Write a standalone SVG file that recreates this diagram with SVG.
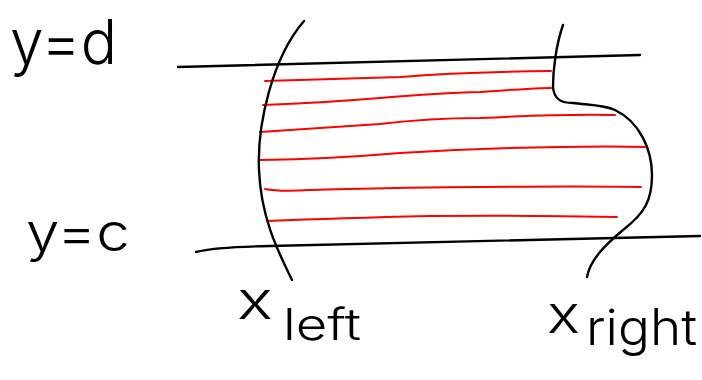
<svg xmlns="http://www.w3.org/2000/svg" width="702" height="380" viewBox="0 0 702 380">
<style>
.ink{fill:none;stroke:#000;stroke-width:2.4;stroke-linecap:round;stroke-linejoin:round}
.red{fill:none;stroke:#ff0000;stroke-width:2;stroke-linecap:round}
.lbl{font-family:"Inter","Lato","Liberation Sans",sans-serif;fill:#000;font-weight:300}
</style>
<rect width="702" height="380" fill="#fff"/>
<g id="hatching">
<path class="red" d="M265,81 Q330,79 400,77 Q460,72 551,71"/>
<path class="red" d="M263,105 Q320,103 380,98 Q440,93 480,92 Q520,89 551,88"/>
<path class="red" d="M260,132 Q320,128 380,124 Q430,118 480,118 Q560,114 615,115"/>
<path class="red" d="M260,160 Q330,159 400,153 Q480,148 560,147 Q610,146 647,147"/>
<path class="red" d="M265,189 Q280,192 310,190 Q420,187 480,187 Q580,186 641,187"/>
<path class="red" d="M267,221 Q340,218 430,216 Q520,215 617,217"/>
</g>
<g id="y_d">
<path class="ink" d="M178,67 Q400,62 640,55"/>
<text class="lbl" x="10" y="64" font-size="62" textLength="107" lengthAdjust="spacingAndGlyphs">y=d</text>
</g>
<g id="y_c">
<path class="ink" d="M196,252 Q215,247 270,246 Q500,240 700,236"/>
<text class="lbl" x="26" y="251" font-size="52" textLength="104" lengthAdjust="spacingAndGlyphs">y=c</text>
</g>
<g id="x_left">
<path class="ink" d="M304,21 C272,58 257,125 259,170 C261,220 280,255 292,280"/>
<text class="lbl" x="237" y="319" font-size="52"><tspan textLength="36" lengthAdjust="spacingAndGlyphs">x</tspan><tspan x="283" y="340" font-size="44" textLength="78" lengthAdjust="spacingAndGlyphs">left</tspan></text>
</g>
<g id="x_right">
<path class="ink" d="M563,25 C556,45 553,70 553,87 C554,100 562,103 573,103 C590,105 605,105 615,110 C640,122 652,150 652,175 C652,200 645,213 623,230 C605,245 590,260 587,277"/>
<text class="lbl" x="547" y="333" font-size="52"><tspan textLength="33" lengthAdjust="spacingAndGlyphs">x</tspan><tspan x="586" y="345" font-size="50" textLength="111" lengthAdjust="spacingAndGlyphs">right</tspan></text>
</g>
</svg>
